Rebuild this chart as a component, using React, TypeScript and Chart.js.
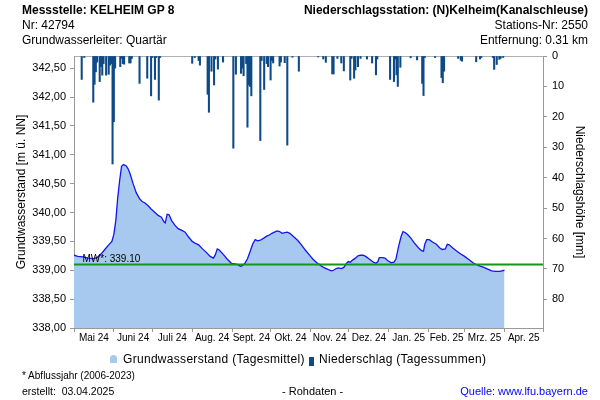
import React, { useEffect, useRef } from 'react';
import { Chart, registerables } from 'chart.js';

Chart.register(...registerables);

const FONT = 'Arial, "Liberation Sans", Helvetica, sans-serif';

// x values are days counted from 1 May 2024
const monthBoundaryDays = [0, 31, 61, 92, 123, 153, 184, 214, 245, 276, 304, 335, 365];
const monthLabels = ['Mai 24', 'Juni 24', 'Juli 24', 'Aug. 24', 'Sept. 24', 'Okt. 24', 'Nov. 24', 'Dez. 24', 'Jan. 25', 'Feb. 25', 'Mrz. 25', 'Apr. 25'];
const levelTickValues = [338, 338.5, 339, 339.5, 340, 340.5, 341, 341.5, 342, 342.5];
const rainTickValues = [0, 10, 20, 30, 40, 50, 60, 70, 80];
const levelMin = 338;
const levelMax = 342.71;
const rainMax = 89.4;
const mwLevel = 339.1;

const gwDays = [0, 3, 7, 11, 15, 18, 21, 24, 27, 29.5, 31, 32.5, 34, 35.5, 37, 38.5, 40.5, 42, 43.5, 46, 48.5, 51, 53, 55, 57.5, 60, 63, 65.5, 68, 70, 71, 72.5, 74, 76, 78.5, 81, 84, 86.5, 89, 92, 95, 97, 100, 103, 106, 108.5, 110, 111.5, 113, 116, 119, 122.5, 125, 127, 129.5, 131, 133, 135, 137, 139, 141, 143, 145, 148, 150, 152, 154, 156, 158, 160, 162, 164, 166, 168, 171, 174, 177, 180, 183, 186, 189, 192, 195, 198, 200.5, 202, 204, 206, 208, 210, 212, 213.5, 215, 217, 219, 221, 223, 225, 227, 230, 233, 235, 236.5, 237.6, 240, 242, 244, 247, 249, 250.5, 252.5, 254.5, 256, 258, 260, 262, 265, 268, 270.5, 272, 273, 274.5, 276.5, 279, 282, 284.5, 286.5, 289, 290.5, 292, 295, 298, 301, 304, 307, 310.5, 313, 316, 319, 322, 325, 328, 331, 333, 335];
const gwLevels = [339.26, 339.24, 339.23, 339.21, 339.2, 339.22, 339.28, 339.36, 339.44, 339.5, 339.62, 339.85, 340.25, 340.55, 340.8, 340.83, 340.81, 340.76, 340.68, 340.5, 340.34, 340.24, 340.19, 340.17, 340.12, 340.06, 340.0, 339.95, 339.92, 339.84, 339.82, 339.97, 339.96, 339.86, 339.78, 339.72, 339.69, 339.66, 339.58, 339.5, 339.46, 339.44, 339.37, 339.31, 339.24, 339.21, 339.27, 339.37, 339.35, 339.28, 339.2, 339.12, 339.11, 339.1, 339.07, 339.08, 339.12, 339.2, 339.32, 339.45, 339.53, 339.51, 339.52, 339.56, 339.59, 339.61, 339.64, 339.66, 339.68, 339.67, 339.64, 339.65, 339.66, 339.64, 339.58, 339.52, 339.44, 339.35, 339.27, 339.19, 339.13, 339.08, 339.04, 339.01, 338.99, 339.0, 339.03, 339.04, 339.03, 339.05, 339.12, 339.15, 339.14, 339.18, 339.21, 339.25, 339.26, 339.26, 339.24, 339.19, 339.14, 339.12, 339.15, 339.22, 339.22, 339.21, 339.17, 339.13, 339.14, 339.19, 339.4, 339.58, 339.67, 339.65, 339.61, 339.56, 339.47, 339.39, 339.34, 339.33, 339.45, 339.53, 339.53, 339.49, 339.45, 339.39, 339.36, 339.37, 339.45, 339.44, 339.38, 339.33, 339.28, 339.24, 339.19, 339.13, 339.1, 339.07, 339.05, 339.02, 338.99, 338.98, 338.98, 338.99, 339.0];

const rainDays = [6, 8, 15, 16, 17, 18, 20, 21, 22, 23, 25, 27, 28, 29, 30, 31, 32, 36, 37, 38, 39, 43, 44, 45, 51, 57, 60, 61, 63, 64, 66, 67, 92, 94, 97, 98, 104, 105, 107, 109, 110, 112, 116, 124, 126, 130, 131, 132, 134, 135, 136, 137, 138, 145, 146, 148, 150, 151, 153, 154, 155, 160, 161, 164, 166, 170, 175, 190, 194, 196, 201, 202, 205, 208, 210, 215, 216, 218, 219, 221, 223, 228, 232, 235, 236, 246, 249, 250, 251, 252, 254, 262, 267, 271, 272, 273, 281, 286, 287, 288, 299, 301, 302, 313, 316, 317, 326, 327, 329, 331, 332, 334];
const rainMm = [7.7, 0.5, 15.2, 9.3, 5.2, 2.0, 8.4, 3.5, 6.3, 2.5, 6.3, 6.0, 3.0, 2.5, 35.5, 21.6, 4.0, 3.5, 0.8, 2.5, 2.7, 2.3, 2.3, 0.8, 9.0, 7.3, 13.1, 0.5, 7.7, 0.5, 14.5, 0.5, 2.4, 0.5, 1.5, 3.0, 12.6, 18.5, 5.0, 9.5, 1.0, 4.3, 2.0, 30.3, 6.0, 5.7, 4.0, 6.5, 2.5, 23.4, 9.5, 10.0, 13.1, 27.8, 1.5, 11.0, 2.5, 3.5, 7.9, 1.5, 2.3, 3.3, 2.0, 2.2, 29.3, 0.4, 5.0, 0.3, 1.0, 2.1, 5.9, 5.9, 0.8, 2.3, 4.9, 7.9, 0.8, 7.3, 4.6, 3.5, 0.8, 1.0, 2.3, 6.2, 1.0, 7.7, 8.4, 1.0, 6.2, 10.0, 3.7, 0.6, 1.3, 9.0, 13.0, 0.5, 0.5, 7.1, 8.8, 5.0, 0.8, 1.4, 1.7, 1.9, 1.0, 0.5, 0.5, 4.4, 2.8, 1.1, 0.8, 0.5];

const monthMidDays = monthLabels.map((_, i) => (monthBoundaryDays[i] + monthBoundaryDays[i + 1]) / 2);

const mwLabelPlugin = {
  id: 'mwLabel',
  afterDatasetsDraw(chart: any) {
    const { ctx, chartArea, scales } = chart;
    const y = scales.y.getPixelForValue(mwLevel);
    ctx.save();
    ctx.font = `10px ${FONT}`;
    ctx.fillStyle = '#000';
    ctx.textBaseline = 'alphabetic';
    ctx.textAlign = 'left';
    ctx.fillText(`MW*: ${mwLevel.toFixed(2)}`, chartArea.left + 8.5, y - 2.7);
    ctx.restore();
  },
};

export default function App() {
  const canvasRef = useRef<HTMLCanvasElement | null>(null);

  useEffect(() => {
    if (!canvasRef.current) return;
    Chart.defaults.font.family = FONT;
    Chart.defaults.color = '#000';
    const chart = new Chart(canvasRef.current, {
      type: 'line',
      data: {
        datasets: [
          {
            type: 'line',
            label: 'MW',
            data: [{ x: 0, y: mwLevel }, { x: 365, y: mwLevel }],
            borderColor: '#14961a',
            borderWidth: 2,
            pointRadius: 0,
            fill: false,
            xAxisID: 'x',
            yAxisID: 'y',
            order: 0,
          },
          {
            type: 'bar',
            label: 'Niederschlag (Tagessummen)',
            data: rainDays.map((d, i) => ({ x: d, y: rainMm[i] })),
            backgroundColor: '#0d4a86',
            barThickness: 1.4,
            xAxisID: 'x',
            yAxisID: 'y2',
            order: 1,
          },
          {
            type: 'line',
            label: 'Grundwasserstand (Tagesmittel)',
            data: gwDays.map((d, i) => ({ x: d, y: gwLevels[i] })),
            borderColor: '#1414f0',
            borderWidth: 1.3,
            backgroundColor: '#a7c8ef',
            fill: 'start',
            pointRadius: 0,
            tension: 0,
            xAxisID: 'x',
            yAxisID: 'y',
            order: 2,
          },
        ] as any,
      },
      options: {
        animation: false,
        responsive: false,
        devicePixelRatio: 1,
        events: [],
        layout: { padding: { top: 56, left: 0, right: 0, bottom: 52 } },
        plugins: { legend: { display: false }, tooltip: { enabled: false }, title: { display: false } },
        scales: {
          x: {
            type: 'linear',
            position: 'bottom',
            weight: 0,
            min: 0,
            max: 365,
            offset: false,
            afterBuildTicks: (s: any) => { s.ticks = monthBoundaryDays.map(v => ({ value: v })); },
            ticks: { display: false },
            grid: { display: true, drawOnChartArea: false, drawTicks: true, tickLength: 4, color: '#999', offset: false },
            border: { display: true, color: '#999' },
            afterFit: (s: any) => { s.height = 4; },
          },
          xl: {
            type: 'linear',
            position: 'bottom',
            weight: 1,
            min: 0,
            max: 365,
            offset: false,
            afterBuildTicks: (s: any) => { s.ticks = monthMidDays.map(v => ({ value: v })); },
            ticks: {
              autoSkip: false,
              maxRotation: 0,
              minRotation: 0,
              padding: 0,
              color: '#000',
              font: { size: 10 },
              callback: (_v: any, i: number) => monthLabels[i],
            },
            grid: { display: false, drawTicks: false },
            border: { display: false },
            afterFit: (s: any) => { s.height = 16; },
          },
          xt: {
            type: 'linear',
            position: 'top',
            min: 0,
            max: 365,
            ticks: { display: false },
            grid: { display: false, drawTicks: false },
            border: { display: true, color: '#b0b0b0' },
            afterFit: (s: any) => { s.height = 0; },
          },
          y: {
            type: 'linear',
            position: 'left',
            min: levelMin,
            max: levelMax,
            afterBuildTicks: (s: any) => { s.ticks = levelTickValues.map(v => ({ value: v })); },
            ticks: {
              padding: 4,
              color: '#000',
              font: { size: 11 },
              callback: (v: any) => Number(v).toFixed(2).replace('.', ','),
            },
            grid: { drawOnChartArea: false, drawTicks: true, tickLength: 4, color: '#999' },
            border: { display: true, color: '#999' },
            title: {
              display: true,
              text: 'Grundwasserstand [m ü. NN]',
              color: '#000',
              font: { size: 12 },
              padding: { top: 14, bottom: 0 },
            },
            afterFit: (s: any) => { s.width = 74; },
          },
          y2: {
            type: 'linear',
            position: 'right',
            reverse: true,
            min: 0,
            max: rainMax,
            afterBuildTicks: (s: any) => { s.ticks = rainTickValues.map(v => ({ value: v })); },
            ticks: { padding: 5, color: '#000', font: { size: 11 } },
            grid: { drawOnChartArea: false, drawTicks: true, tickLength: 4, color: '#999' },
            border: { display: true, color: '#999' },
            title: {
              display: true,
              text: 'Niederschlagshöhe [mm]',
              color: '#000',
              font: { size: 12 },
              padding: { top: 13, bottom: 0 },
            },
            afterFit: (s: any) => { s.width = 57; },
          },
        },
      } as any,
      plugins: [mwLabelPlugin],
    });
    return () => chart.destroy();
  }, []);

  const base: React.CSSProperties = { position: 'absolute', fontFamily: FONT, color: '#000', whiteSpace: 'pre' };

  return (
    <div style={{ position: 'absolute', left: 0, top: 0, width: 600, height: 400, background: '#fff', overflow: 'hidden' }}>
      <canvas ref={canvasRef} width={600} height={400} style={{ position: 'absolute', left: 0, top: 0, width: 600, height: 400 }} />
      <div style={{ ...base, left: 22, top: 3, fontSize: 12, lineHeight: '15px' }}>
        <div style={{ fontWeight: 'bold' }}>Messstelle: KELHEIM GP 8</div>
        <div>Nr: 42794</div>
        <div>Grundwasserleiter: Quartär</div>
      </div>
      <div style={{ ...base, right: 12, top: 3, fontSize: 12, lineHeight: '15px', textAlign: 'right' }}>
        <div style={{ fontWeight: 'bold' }}>Niederschlagsstation: (N)Kelheim(Kanalschleuse)</div>
        <div>Stations-Nr: 2550</div>
        <div>Entfernung: 0.31 km</div>
      </div>
      <div style={{ position: 'absolute', left: 110, top: 355, width: 7, height: 8, background: '#a7c8ef', borderRadius: '3.5px 3.5px 0 0' }} />
      <div style={{ ...base, left: 123, top: 352, fontSize: 12, lineHeight: '15px', letterSpacing: '0.3px' }}>Grundwasserstand (Tagesmittel)</div>
      <div style={{ position: 'absolute', left: 309, top: 357, width: 5, height: 9, background: '#0d4a86' }} />
      <div style={{ ...base, left: 319, top: 352, fontSize: 12, lineHeight: '15px', letterSpacing: '0.3px' }}>Niederschlag (Tagessummen)</div>
      <div style={{ ...base, left: 22, top: 370, fontSize: 10, lineHeight: '12px' }}>* Abflussjahr (2006-2023)</div>
      <div style={{ ...base, left: 22, top: 385, fontSize: 10.5, lineHeight: '13px' }}>erstellt:  03.04.2025</div>
      <div style={{ ...base, left: 282, top: 385, fontSize: 11, lineHeight: '13px' }}>- Rohdaten -</div>
      <div style={{ ...base, right: 12, top: 385, fontSize: 11, lineHeight: '13px', color: '#0000ff', textAlign: 'right' }}>Quelle: www.lfu.bayern.de</div>
    </div>
  );
}
